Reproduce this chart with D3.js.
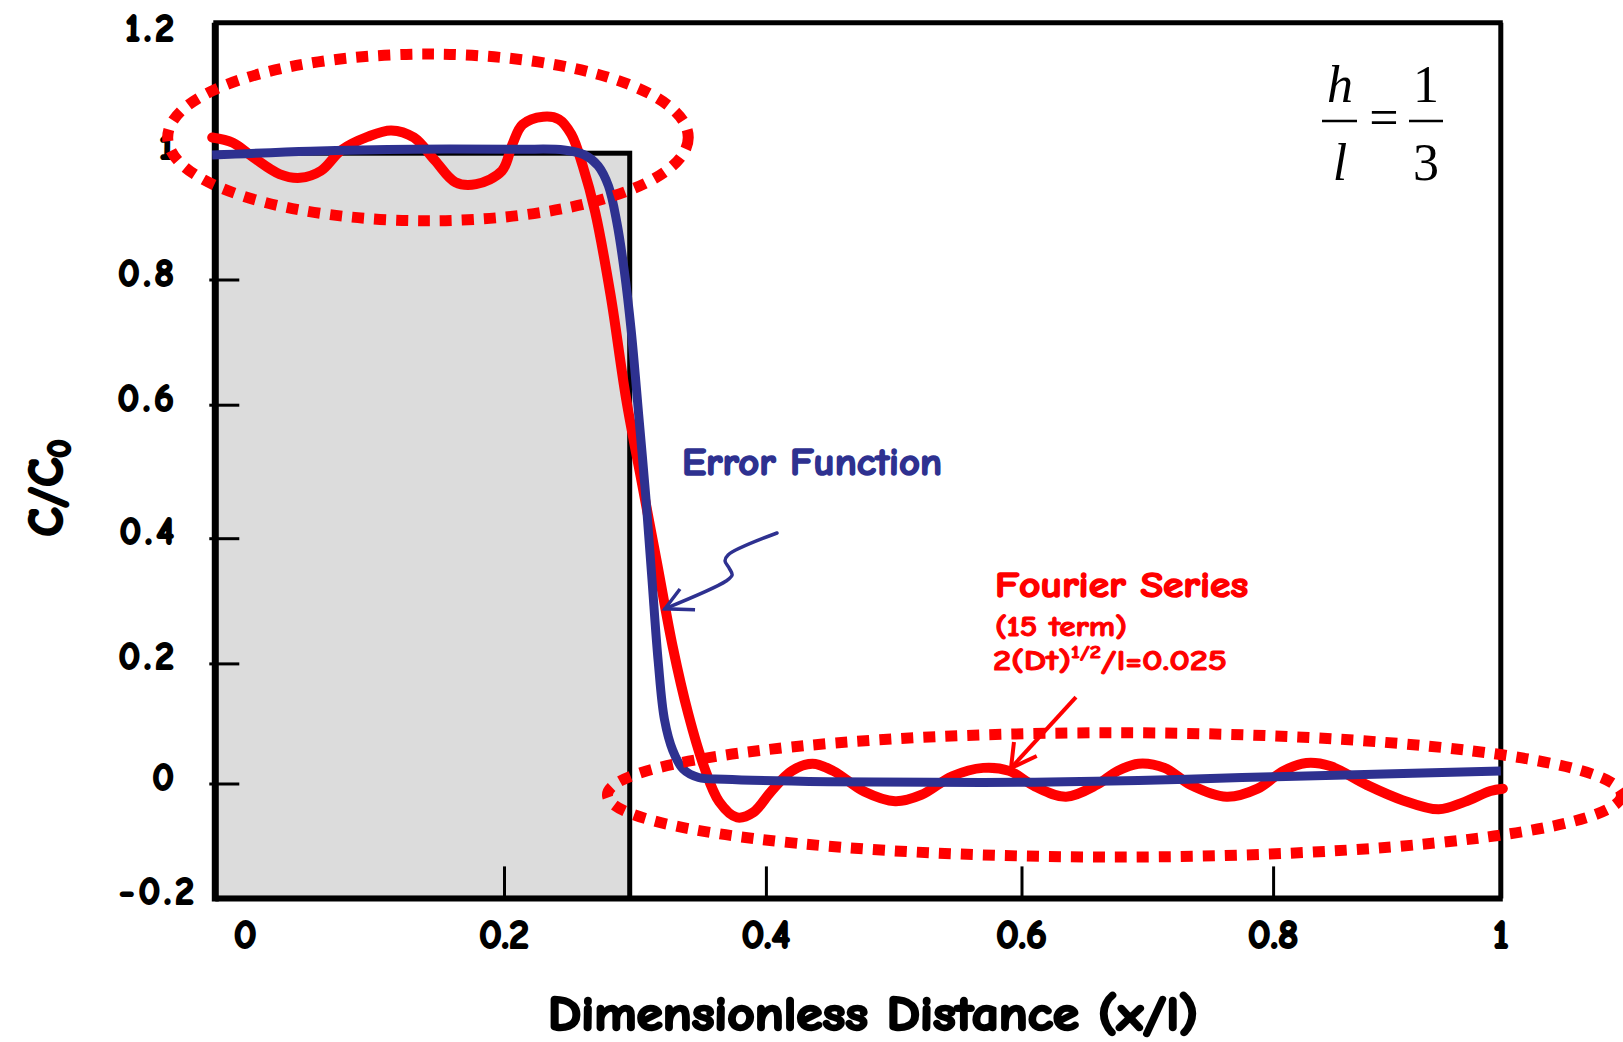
<!DOCTYPE html>
<html>
<head>
<meta charset="utf-8">
<script src="https://cdn.jsdelivr.net/npm/d3@7"></script>
<style>
  html, body { margin: 0; padding: 0; background: #ffffff; overflow: hidden; }
  svg { display: block; }
  .lbl { font-family: "Comic Sans MS", "Comic Neue", "Lato", "DejaVu Sans", sans-serif; font-weight: 700; paint-order: stroke; stroke-linejoin: round; }
</style>
</head>
<body>
<svg id="chart" width="1623" height="1042"></svg>
<script>
// ---------------- data ----------------
const xTickValues = [0, 0.2, 0.4, 0.6, 0.8, 1];
const xTickLabels = ["0", "0.2", "0.4", "0.6", "0.8", "1"];
const yTickValues = [-0.2, 0, 0.2, 0.4, 0.6, 0.8, 1, 1.2];
const yTickLabels = ["-0.2", "0", "0.2", "0.4", "0.6", "0.8", "1", "1.2"];
const xMarkedTicks = [0.2, 0.4, 0.6, 0.8];
const yMarkedTicks = [0, 0.2, 0.4, 0.6, 0.8];

// Fourier series (15 term) curve
const fourierX = [-0.0256, -0.0096, 0.0064, 0.0264, 0.0424, 0.0584, 0.0744, 0.0944, 0.1128, 0.1304,
  0.1464, 0.1624, 0.1784, 0.1984, 0.2063, 0.2142, 0.2300, 0.2419, 0.2514, 0.2601,
  0.2696, 0.2814, 0.2933, 0.3051, 0.3170, 0.3289, 0.3407, 0.3526, 0.3644, 0.3779,
  0.3905, 0.4040, 0.4202, 0.4364, 0.4526, 0.4769, 0.5012, 0.5215, 0.5457, 0.5700,
  0.5903, 0.6107, 0.6354, 0.6601, 0.6765, 0.6930, 0.7136, 0.7342, 0.7630, 0.7877,
  0.8091, 0.8291, 0.8500, 0.8818, 0.9136, 0.9455, 0.9682, 0.9909, 1.0018];
const fourierY = [1.024, 1.016, 0.993, 0.967, 0.961, 0.972, 1.005, 1.025, 1.035, 1.024,
  0.989, 0.954, 0.951, 0.972, 1.013, 1.044, 1.056, 1.052, 1.029, 0.980,
  0.907, 0.775, 0.609, 0.485, 0.359, 0.226, 0.116, 0.029, -0.032, -0.059,
  -0.050, -0.014, 0.021, 0.033, 0.021, -0.014, -0.031, -0.020, 0.012, 0.026,
  0.021, -0.005, -0.023, -0.002, 0.021, 0.033, 0.026, -0.002, -0.023, -0.009,
  0.021, 0.034, 0.029, -0.002, -0.029, -0.045, -0.032, -0.013, -0.009];

// Error function curve
const erfX = [-0.0256, 0.0504, 0.1304, 0.2103, 0.2458, 0.2617, 0.2719, 0.2798, 0.2862, 0.2917,
  0.2972, 0.3028, 0.3083, 0.3130, 0.3178, 0.3225, 0.3289, 0.3368, 0.3486, 0.3684,
  0.4486, 0.5296, 0.6107, 0.6930, 0.7753, 0.8636, 1.0];
const erfY = [0.997, 1.003, 1.006, 1.006, 1.005, 0.997, 0.980, 0.948, 0.890, 0.816,
  0.717, 0.586, 0.462, 0.334, 0.202, 0.107, 0.055, 0.024, 0.010, 0.007,
  0.003, 0.002, 0.002, 0.005, 0.010, 0.014, 0.021];

// shaded slab (h/l) region
const slabX = [-0.0232, 0.296];
const slabTop = 1.0;
const frameX = [-0.0232, 1];
const frameY = [-0.2, 1.2];

// dotted ellipse annotations (bounding boxes in data units)
const ellipseX1 = [-0.060, 0.279];
const ellipseX2 = [0.3407, 1.106];
const ellipseY1 = [0.893, -0.128];
const ellipseY2 = [1.152, 0.0845];

// arrows (data units)
const erfArrowX = [0.4087, 0.3711, 0.3688, 0.3719, 0.3742, 0.3696, 0.3229];
const erfArrowY = [0.4078, 0.3732, 0.3636, 0.3524, 0.3412, 0.3316, 0.2873];
const erfHeadX = [0.3344, 0.3229, 0.3459];
const erfHeadY = [0.3189, 0.2873, 0.2856];
const fsArrowX = [0.6433, 0.5918];
const fsArrowY = [0.144, 0.0258];
const fsHeadX = [0.5941, 0.5918, 0.6121];
const fsHeadY = [0.0691, 0.0258, 0.0458];

const xTitle = "Dimensionless Distance (x/l)";
const erfLabel = "Error Function";
const fsLabel1 = "Fourier Series";
const fsLabel2 = "(15 term)";

// ---------------- layout ----------------
const svg = d3.select("#chart");
const RED = "#ff0000", NAVY = "#2e3190";

const x = d3.scaleLinear()
  .domain(xTickValues)
  .range([245.3, 504.0, 765.9, 1021.5, 1273.1, 1500.8]);
const y = d3.scaleLinear()
  .domain(yTickValues)
  .range([898.4, 783.5, 663.4, 538.2, 404.7, 279.5, 153.2, 22.8]);

const fL = x(frameX[0]), fR = x(frameX[1]), fT = y(frameY[1]), fB = y(frameY[0]);

// shaded slab
svg.append("rect")
  .attr("x", x(slabX[0])).attr("y", y(slabTop))
  .attr("width", x(slabX[1]) - x(slabX[0]))
  .attr("height", fB - y(slabTop))
  .attr("fill", "#dcdcdc").attr("stroke", "#000").attr("stroke-width", 5);

// frame
const frame = svg.append("g").attr("stroke", "#000").attr("fill", "none");
frame.append("line").attr("x1", fL - 2).attr("x2", fR + 2).attr("y1", fT).attr("y2", fT).attr("stroke-width", 5);
frame.append("line").attr("x1", fR).attr("x2", fR).attr("y1", fT).attr("y2", fB).attr("stroke-width", 5);
frame.append("line").attr("x1", fL).attr("x2", fL).attr("y1", fT).attr("y2", fB + 3).attr("stroke-width", 7);
frame.append("line").attr("x1", fL).attr("x2", fR + 2).attr("y1", fB).attr("y2", fB).attr("stroke-width", 6);

// ticks via d3 axes (inward)
const yAxis = d3.axisLeft(y).tickValues(yMarkedTicks).tickSizeInner(-30).tickSizeOuter(0).tickFormat("");
const yg = svg.append("g").attr("transform", `translate(${fL - 6},0)`).call(yAxis);
yg.select(".domain").remove();
yg.selectAll(".tick line").attr("stroke", "#000").attr("stroke-width", 3);

const xAxis = d3.axisBottom(x).tickValues(xMarkedTicks).tickSizeInner(-32).tickSizeOuter(0).tickFormat("");
const xg = svg.append("g").attr("transform", `translate(0,${fB})`).call(xAxis);
xg.select(".domain").remove();
xg.selectAll(".tick line").attr("stroke", "#000").attr("stroke-width", 3);

// tick labels
svg.append("g").selectAll("text").data(yTickValues).join("text")
  .attr("class", "lbl")
  .attr("x", d => d < 0 ? 198 : 178).attr("y", d => Math.max(y(d) - 6, 29))
  .attr("text-anchor", "end").attr("dominant-baseline", "central")
  .attr("font-size", 38).attr("letter-spacing", 4)
  .attr("fill", "#000").attr("stroke", "#000").attr("stroke-width", 2)
  .text((d, i) => yTickLabels[i]);

svg.append("g").selectAll("text").data(xTickValues).join("text")
  .attr("class", "lbl")
  .attr("x", d => x(d)).attr("y", 948)
  .attr("text-anchor", "middle")
  .attr("font-size", 40).attr("fill", "#000").attr("stroke", "#000").attr("stroke-width", 2)
  .text((d, i) => xTickLabels[i]);

// curves
const line = d3.line().x(d => x(d[0])).y(d => y(d[1])).curve(d3.curveCatmullRom.alpha(0.5));
const fourier = fourierX.map((v, i) => [v, fourierY[i]]);
const erf = erfX.map((v, i) => [v, erfY[i]]);

svg.append("path").datum(fourier).attr("d", line)
  .attr("fill", "none").attr("stroke", RED).attr("stroke-width", 10)
  .attr("stroke-linecap", "round").attr("stroke-linejoin", "round");
svg.append("path").datum(erf).attr("d", line)
  .attr("fill", "none").attr("stroke", NAVY).attr("stroke-width", 9)
  .attr("stroke-linecap", "butt").attr("stroke-linejoin", "round");

// arrows
const straight = d3.line().x(d => x(d[0])).y(d => y(d[1]));
const curvy = d3.line().x(d => x(d[0])).y(d => y(d[1])).curve(d3.curveCatmullRom.alpha(0.5));
svg.append("path").datum(erfArrowX.map((v, i) => [v, erfArrowY[i]])).attr("d", curvy)
  .attr("fill", "none").attr("stroke", NAVY).attr("stroke-width", 3.5).attr("stroke-linecap", "round");
svg.append("path").datum(erfHeadX.map((v, i) => [v, erfHeadY[i]])).attr("d", straight)
  .attr("fill", "none").attr("stroke", NAVY).attr("stroke-width", 3.5).attr("stroke-linejoin", "miter");
svg.append("path").datum(fsArrowX.map((v, i) => [v, fsArrowY[i]])).attr("d", straight)
  .attr("fill", "none").attr("stroke", RED).attr("stroke-width", 4);
svg.append("path").datum(fsHeadX.map((v, i) => [v, fsHeadY[i]])).attr("d", straight)
  .attr("fill", "none").attr("stroke", RED).attr("stroke-width", 4);

// dotted ellipses
svg.append("g").selectAll("ellipse").data(ellipseX1).join("ellipse")
  .attr("cx", (d, i) => (x(ellipseX1[i]) + x(ellipseX2[i])) / 2)
  .attr("cy", (d, i) => (y(ellipseY1[i]) + y(ellipseY2[i])) / 2)
  .attr("rx", (d, i) => Math.abs(x(ellipseX2[i]) - x(ellipseX1[i])) / 2)
  .attr("ry", (d, i) => Math.abs(y(ellipseY2[i]) - y(ellipseY1[i])) / 2)
  .attr("fill", "none").attr("stroke", RED).attr("stroke-width", 11)
  .attr("stroke-dasharray", "12 10");

// annotation texts
svg.append("text").attr("class", "lbl")
  .attr("x", 682).attr("y", 475).attr("font-size", 38).attr("fill", NAVY)
  .attr("stroke", NAVY).attr("stroke-width", 1.6)
  .attr("textLength", 260).attr("lengthAdjust", "spacingAndGlyphs")
  .text(erfLabel);

svg.append("text").attr("class", "lbl")
  .attr("x", 995).attr("y", 597).attr("font-size", 36).attr("fill", RED)
  .attr("stroke", RED).attr("stroke-width", 1.5)
  .attr("textLength", 253).attr("lengthAdjust", "spacingAndGlyphs")
  .text(fsLabel1);
svg.append("text").attr("class", "lbl")
  .attr("x", 995).attr("y", 636).attr("font-size", 28).attr("fill", RED)
  .attr("stroke", RED).attr("stroke-width", 1)
  .attr("textLength", 132).attr("lengthAdjust", "spacingAndGlyphs")
  .text(fsLabel2);
const t3 = svg.append("text").attr("class", "lbl")
  .attr("x", 993).attr("y", 670).attr("font-size", 29).attr("fill", RED)
  .attr("stroke", RED).attr("stroke-width", 1)
  .attr("textLength", 234).attr("lengthAdjust", "spacingAndGlyphs");
t3.append("tspan").text("2(Dt)");
t3.append("tspan").attr("font-size", 18).attr("dy", -12).text("1/2");
t3.append("tspan").attr("dy", 12).text("/l=0.025");

// h/l = 1/3
const eq = svg.append("g").attr("font-family", "'Liberation Serif', 'Times New Roman', serif").attr("fill", "#000");
eq.append("text").attr("x", 1340).attr("y", 102).attr("text-anchor", "middle").attr("font-size", 52).attr("font-style", "italic").text("h");
eq.append("text").attr("x", 1340).attr("y", 180).attr("text-anchor", "middle").attr("font-size", 52).attr("font-style", "italic").text("l");
eq.append("line").attr("x1", 1322).attr("x2", 1357).attr("y1", 121).attr("y2", 121).attr("stroke", "#000").attr("stroke-width", 2.5);
eq.append("text").attr("x", 1384).attr("y", 135).attr("text-anchor", "middle").attr("font-size", 52).text("=");
eq.append("text").attr("x", 1426).attr("y", 102).attr("text-anchor", "middle").attr("font-size", 52).text("1");
eq.append("text").attr("x", 1426).attr("y", 180).attr("text-anchor", "middle").attr("font-size", 52).text("3");
eq.append("line").attr("x1", 1409).attr("x2", 1443).attr("y1", 121).attr("y2", 121).attr("stroke", "#000").attr("stroke-width", 2.5);

// axis titles
svg.append("text").attr("class", "lbl")
  .attr("x", 873).attr("y", 1030).attr("text-anchor", "middle")
  .attr("font-size", 48).attr("fill", "#000").attr("stroke", "#000").attr("stroke-width", 2.5)
  .attr("textLength", 650).attr("lengthAdjust", "spacingAndGlyphs")
  .text(xTitle);

const yt = svg.append("text").attr("class", "lbl")
  .attr("transform", "translate(62,488) rotate(-90)")
  .attr("text-anchor", "middle").attr("font-size", 48).attr("fill", "#000")
  .attr("stroke", "#000").attr("stroke-width", 2.5);
yt.append("tspan").text("C/C");
yt.append("tspan").attr("font-size", 32).attr("dy", 8).text("0");
</script>
</body>
</html>
